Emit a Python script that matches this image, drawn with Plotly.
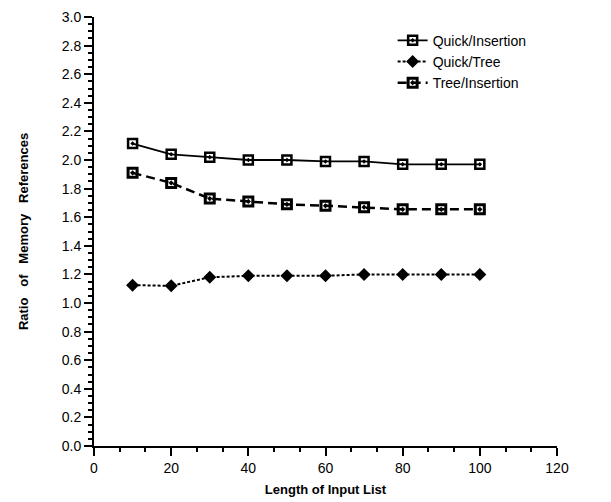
import plotly.graph_objects as go

x_vals = [10, 20, 30, 40, 50, 60, 70, 80, 90, 100]
quick_insertion = [2.115, 2.04, 2.02, 2.00, 2.00, 1.99, 1.99, 1.97, 1.97, 1.97]
quick_tree = [1.125, 1.12, 1.18, 1.19, 1.19, 1.19, 1.20, 1.20, 1.20, 1.20]
tree_insertion = [1.91, 1.84, 1.73, 1.71, 1.69, 1.68, 1.67, 1.655, 1.655, 1.655]

font_family = "Liberation Sans, Arial, Helvetica, sans-serif"

fig = go.Figure()
fig.add_trace(go.Scatter(
    x=x_vals, y=quick_insertion, name="Quick/Insertion", mode="lines+markers",
    line=dict(color="black", width=1.8, dash="solid"),
    marker=dict(symbol="square-open-dot", size=9, color="black", line=dict(width=2.5, color="black")),
))
fig.add_trace(go.Scatter(
    x=x_vals, y=quick_tree, name="Quick/Tree", mode="lines+markers",
    line=dict(color="black", width=2, dash="3px,2px"),
    marker=dict(symbol="diamond", size=10, color="black"),
))
fig.add_trace(go.Scatter(
    x=x_vals, y=tree_insertion, name="Tree/Insertion", mode="lines+markers",
    line=dict(color="black", width=2.5, dash="9px,5px"),
    marker=dict(symbol="square-open-dot", size=9, color="black", line=dict(width=3, color="black")),
))

fig.update_layout(
    width=611, height=502,
    margin=dict(l=86, r=62, t=9, b=64),
    paper_bgcolor="white", plot_bgcolor="white",
    font=dict(family=font_family, color="black", size=14),
    legend=dict(x=0.645, y=0.982, xanchor="left", yanchor="top",
                bgcolor="rgba(0,0,0,0)", font=dict(size=14), tracegroupgap=0),
    xaxis=dict(
        range=[0, 120], dtick=20, tick0=0, showgrid=False, zeroline=False, automargin=False,
        showline=True, linecolor="black", linewidth=2,
        ticks="outside", ticklen=8, tickwidth=2, tickcolor="black",
        minor=dict(dtick=20/3, ticks="outside", ticklen=4, tickwidth=1.5, tickcolor="black"),
        title=dict(text="<b>Length of Input List</b>", font=dict(size=13), standoff=10),
        tickfont=dict(size=14),
    ),
    yaxis=dict(
        range=[0, 3.0], dtick=0.2, tick0=0, tickformat=".1f", showgrid=False, zeroline=False,
        automargin=False,
        showline=True, linecolor="black", linewidth=2,
        ticks="outside", ticklen=8, tickwidth=2, tickcolor="black",
        minor=dict(dtick=0.05, ticks="outside", ticklen=4, tickwidth=1.5, tickcolor="black"),
        title=dict(text="<b>Ratio   of   Memory   References</b>", font=dict(size=13), standoff=30),
        tickfont=dict(size=14),
    ),
)

fig.write_html("out.html")
